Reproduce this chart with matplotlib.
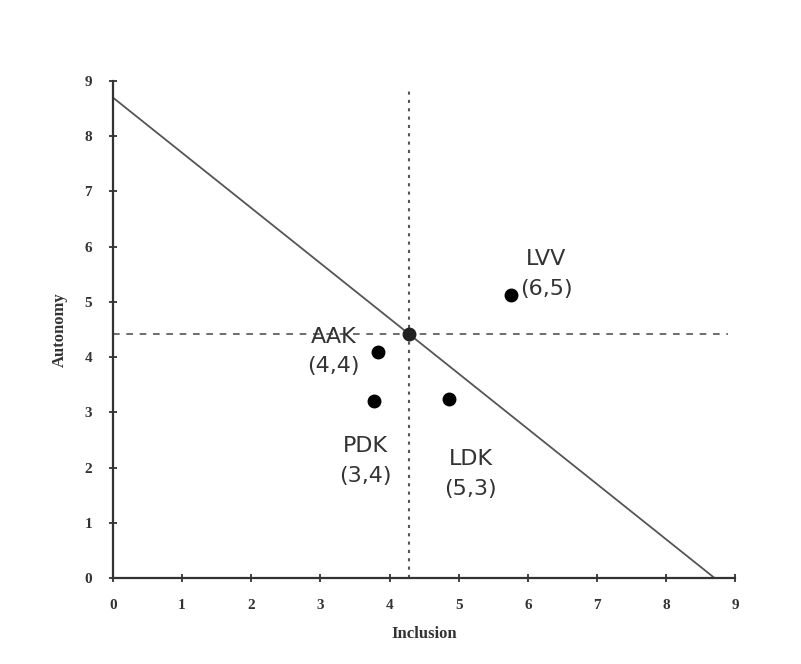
import matplotlib.pyplot as plt

# data
names = ['AAK', 'PDK', 'LDK', 'LVV']
coords = ['(4,4)', '(3,4)', '(5,3)', '(6,5)']
x_vals = [3.84, 3.78, 4.86, 5.75]
y_vals = [4.09, 3.20, 3.24, 5.13]
label_x = [3.19, 3.65, 5.17, 6.27]
label_y = [4.10, 2.12, 1.88, 5.50]

mean_x = 4.28
mean_y = 4.42
line_intercept = 8.7
line_end = 8.9
ticks = list(range(10))

plt.rcParams['font.family'] = ['DejaVu Sans']

fig = plt.figure(figsize=(8.01, 6.64), dpi=100)
ax = fig.add_axes([0.141, 0.1295, 0.777, 0.7485])

# reference lines
ax.plot([0, line_intercept], [line_intercept, 0], color='#555555', linewidth=1.3, zorder=2)
ax.plot([0, line_end], [mean_y, mean_y], color='#555555', linestyle=(0, (4, 4)), linewidth=1.2, zorder=1)
ax.plot([mean_x, mean_x], [0, line_end], color='#555555', linestyle=(0, (1.5, 2.5)), linewidth=1.5, zorder=1)

# points
ax.plot(x_vals, y_vals, 'o', color='black', markersize=9, zorder=3)
ax.plot([mean_x], [mean_y], 'o', color='#222222', markersize=9, zorder=3)

for n, c, lx, ly in zip(names, coords, label_x, label_y):
    ax.text(lx, ly, f'{n}\n{c}', ha='center', va='center', fontsize=16,
            color='#333333', linespacing=1.6)

ax.set_xlim(0, 9)
ax.set_ylim(0, 9)
ax.set_xticks(ticks)
ax.set_yticks(ticks)
for side in ['top', 'right']:
    ax.spines[side].set_visible(False)
for side in ['left', 'bottom']:
    ax.spines[side].set_linewidth(1.6)
    ax.spines[side].set_color('#333333')
ax.tick_params(direction='inout', length=6, width=1.3, colors='#333333', pad=12)
for lab in ax.get_xticklabels() + ax.get_yticklabels():
    lab.set_fontfamily('Liberation Serif')
    lab.set_fontweight('bold')
    lab.set_fontsize(11)

ax.set_xlabel('Inclusion', fontfamily='Liberation Serif', fontweight='bold',
              fontsize=12, labelpad=10, color='#333333')
ax.set_ylabel('Autonomy', fontfamily='Liberation Serif', fontweight='bold',
              fontsize=12, labelpad=12, color='#333333')

fig.savefig('out.png', dpi=100)
